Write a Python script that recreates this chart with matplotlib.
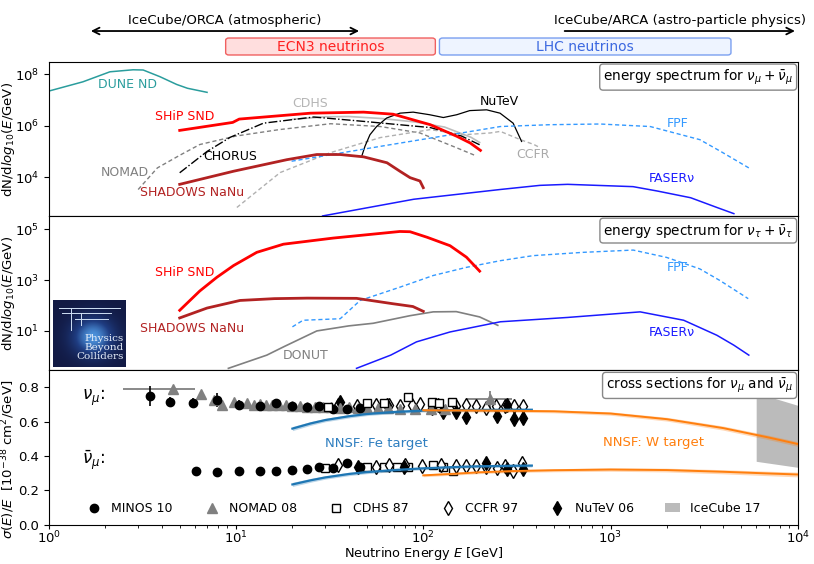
import numpy as np
import matplotlib
matplotlib.use('Agg')
import matplotlib.pyplot as plt
from matplotlib.patches import FancyBboxPatch, Patch
from matplotlib.lines import Line2D
from matplotlib.colors import LinearSegmentedColormap
from matplotlib.ticker import FixedLocator, NullLocator

# ---------------- energy spectra: nu_mu + nubar_mu ----------------
dune_E = [1.0, 1.52, 2.12, 2.82, 3.19, 3.92, 4.81, 5.5, 7.0]
dune_N = [2.24e7, 5.13e7, 1.26e8, 1.51e8, 1.48e8, 8.13e7, 4.07e7, 2.88e7, 2.0e7]

ship_mu_E = [5.0, 9.6, 10.4, 25, 48, 69, 109, 151, 178, 202]
ship_mu_N = [6.6e5, 1.35e6, 1.82e6, 3.09e6, 3.39e6, 2.82e6, 1.10e6, 3.89e5, 2.14e5, 1.10e5]

cdhs_E = [20, 30, 40, 60, 90, 130, 180, 200]
cdhs_N = [1.78e6, 2.24e6, 2.29e6, 1.91e6, 1.41e6, 8.9e5, 3.55e5, 2.24e5]

chorus_E = [5.0, 7.0, 9.3, 14, 26, 48, 109, 160, 200]
chorus_N = [1.48e4, 1.0e5, 3.55e5, 1.26e6, 2.19e6, 1.48e6, 8.5e5, 3.98e5, 1.82e5]

nomad_E = [3.0, 3.8, 5.0, 6.4, 10, 17, 32, 59, 96, 151, 190]
nomad_N = [3.3e3, 2.29e4, 7.08e4, 1.86e5, 3.98e5, 7.08e5, 1.20e6, 9.33e5, 5.25e5, 1.38e5, 6.9e4]

ccfr_E = [10.1, 17.2, 31.8, 59, 109, 164, 228, 258, 330, 390, 422]
ccfr_N = [6.6e2, 1.51e4, 8.9e4, 3.47e5, 7.08e5, 4.47e5, 5.25e5, 6.03e5, 2.88e5, 1.86e5, 1.38e5]

nutev_E = [46.8, 48.8, 51.9, 56.3, 63.7, 75, 88.3, 108, 128, 151, 177, 218, 257, 302, 335]
nutev_N = [6.17e4, 1.58e5, 4.47e5, 9.33e5, 2.0e6, 3.09e6, 3.39e6, 2.69e6, 2.09e6, 2.69e6,
           3.89e6, 4.17e6, 3.09e6, 1.26e6, 2.45e5]

shadows_mu_E = [5.0, 9.7, 18.7, 27, 36, 48, 64, 75, 85, 96, 100]
shadows_mu_N = [5.25e3, 1.70e4, 4.79e4, 7.59e4, 7.59e4, 6.17e4, 3.63e4, 1.70e4, 9.55e3, 7.08e3, 3.89e3]

fpf_mu_E = [19.8, 59, 258, 475, 880, 1630, 3000, 3880, 5480]
fpf_mu_N = [4.17e4, 1.58e5, 9.33e5, 1.10e6, 1.17e6, 9.33e5, 2.88e5, 1.0e5, 2.29e4]

faser_mu_E = [29, 89, 258, 420, 590, 1320, 1780, 2680, 3700, 4560]
faser_mu_N = [309, 1380, 3310, 4790, 5250, 4270, 2880, 1580, 661, 380]

# ---------------- energy spectra: nu_tau + nubar_tau ----------------
ship_tau_E = [5.0, 6.4, 7.9, 9.7, 12.9, 17.9, 33, 75, 85, 105, 139, 170, 200]
ship_tau_N = [64.6, 372, 1290, 3720, 1.23e4, 2.57e4, 4.47e4, 8.13e4, 7.94e4, 4.79e4, 2.24e4, 7.94e3, 2.24e3]

shadows_tau_E = [5.0, 7.0, 10.5, 16, 24, 44, 69, 88, 100]
shadows_tau_N = [32.4, 79.4, 158, 186, 195, 191, 117, 91.2, 58.9]

fpf_tau_E = [20, 22.8, 36, 46, 75, 113, 170, 257, 386, 715, 1322, 1995, 3000, 3845, 5440]
fpf_tau_N = [14.5, 26.3, 30.2, 158, 525, 1510, 3160, 5750, 9120, 1.23e4, 1.51e4, 7760, 2750, 955, 186]

donut_E = [9.1, 14.6, 18, 27, 40, 54, 85, 113, 150, 200, 250]
donut_N = [0.339, 1.12, 2.40, 10.0, 15.8, 20.0, 39.8, 56.2, 57.5, 35.5, 16.6]

faser_tau_E = [44, 67, 92, 139, 258, 590, 1440, 2460, 3700, 4560, 5480]
faser_tau_N = [0.339, 1.12, 3.72, 9.12, 22.9, 33.9, 56.2, 26.3, 6.76, 2.75, 1.12]

# ---------------- cross sections sigma/E ----------------
minos_nu_E = [3.47, 4.43, 5.87, 7.94, 10.4, 13.4, 16.4, 19.9, 23.9, 27.9, 32.9, 39.1, 45.7]
minos_nu_s = [0.750, 0.715, 0.711, 0.727, 0.698, 0.692, 0.711, 0.692, 0.686, 0.692, 0.677, 0.677, 0.683]
minos_nu_err = [0.06, 0.03, 0.025, 0.04, 0.03, 0.015, 0.012, 0.012, 0.012, 0.012, 0.012, 0.012, 0.012]
minos_nb_E = [6.11, 7.94, 10.4, 13.4, 16.4, 19.9, 23.9, 27.9, 32.9, 39.1, 45.7]
minos_nb_s = [0.310, 0.306, 0.310, 0.315, 0.310, 0.321, 0.325, 0.338, 0.329, 0.358, 0.333]
minos_nb_err = [0.015, 0.012, 0.012, 0.012, 0.012, 0.012, 0.012, 0.012, 0.012, 0.012, 0.012]

nomad_nu_E = [4.6, 6.5, 7.6, 8.4, 9.7, 11.4, 12.5, 13.5, 14.5, 15.5, 17, 18.5, 20, 22, 24, 26.5,
              29, 32, 36, 40, 45, 50, 57, 65, 75, 90, 110, 130, 228]
nomad_nu_s = [0.789, 0.763, 0.725, 0.700, 0.715, 0.707, 0.699, 0.702, 0.699, 0.700, 0.697, 0.695,
              0.694, 0.690, 0.688, 0.688, 0.686, 0.686, 0.683, 0.684, 0.680, 0.682, 0.679, 0.680,
              0.677, 0.676, 0.675, 0.672, 0.730]
nomad_nu_xlo = [2.1, 0, 0, 0, 0, 0, 0, 0, 0, 0, 0, 0, 0, 0, 0, 0, 0, 0, 0, 0, 0, 0, 0, 0, 0, 0, 0, 0, 58]
nomad_nu_xhi = [1.4, 0, 0, 0, 0, 0, 0, 0, 0, 0, 0, 0, 0, 0, 0, 0, 0, 0, 0, 0, 0, 0, 0, 0, 0, 0, 0, 0, 68]
nomad_nu_err = [0.015, 0.015, 0.01, 0.01, 0.01, 0.01, 0.01, 0.01, 0.01, 0.01, 0.01, 0.01, 0.01, 0.01,
                0.01, 0.01, 0.01, 0.01, 0.01, 0.01, 0.01, 0.01, 0.01, 0.01, 0.01, 0.01, 0.01, 0.01, 0.05]

cdhs_nu_E = [31, 50, 61.5, 83, 111, 122, 142]
cdhs_nu_s = [0.686, 0.707, 0.711, 0.742, 0.715, 0.707, 0.715]
cdhs_nu_err = [0.01, 0.012, 0.012, 0.02, 0.012, 0.012, 0.012]
cdhs_nb_E = [30, 50, 61.5, 72.5, 83, 113, 128, 145]
cdhs_nb_s = [0.329, 0.334, 0.338, 0.334, 0.335, 0.348, 0.334, 0.310]

ccfr_nu_E = [35, 44, 56, 66, 75, 87, 96, 120, 150, 170, 192, 217, 245, 274, 307, 341]
ccfr_nu_s = [0.700, 0.690, 0.695, 0.700, 0.690, 0.700, 0.701, 0.700, 0.690, 0.700, 0.692,
             0.683, 0.690, 0.692, 0.692, 0.692]
ccfr_nb_E = [35, 56, 66, 80, 98, 125, 150, 170, 192, 217, 247, 274, 303, 336]
ccfr_nb_s = [0.350, 0.338, 0.350, 0.345, 0.344, 0.350, 0.340, 0.340, 0.340, 0.338, 0.329,
             0.344, 0.315, 0.362]

nutev_nu_E = [36, 64, 111, 128, 150, 170, 247, 280, 307, 342]
nutev_nu_s = [0.715, 0.698, 0.683, 0.655, 0.657, 0.630, 0.634, 0.696, 0.615, 0.619]
nutev_nb_E = [45, 78.5, 217, 280, 342]
nutev_nb_s = [0.338, 0.338, 0.360, 0.325, 0.325]

icecube_E = [6000, 10000]
icecube_lo = [0.369, 0.334]
icecube_hi = [0.769, 0.696]

nnsf_fe_E = [20, 25, 30, 40, 50, 70, 100, 150, 200, 300, 380]
nnsf_fe_nu = [0.560, 0.590, 0.610, 0.632, 0.645, 0.657, 0.665, 0.668, 0.669, 0.670, 0.670]
nnsf_fe_nb = [0.234, 0.258, 0.275, 0.295, 0.306, 0.318, 0.328, 0.336, 0.340, 0.343, 0.344]
nnsf_fe_unc = [0.012, 0.011, 0.010, 0.010, 0.009, 0.009, 0.008, 0.008, 0.008, 0.008, 0.008]
nnsf_w_E = [100, 150, 200, 300, 500, 1000, 2000, 4000, 7000, 10000]
nnsf_w_nu = [0.667, 0.666, 0.665, 0.664, 0.661, 0.648, 0.615, 0.563, 0.508, 0.470]
nnsf_w_nb = [0.287, 0.297, 0.305, 0.312, 0.317, 0.321, 0.318, 0.308, 0.298, 0.292]
nnsf_w_unc = [0.008, 0.008, 0.008, 0.008, 0.009, 0.010, 0.011, 0.012, 0.013, 0.014]

# annotation ranges (GeV)
orca_range = (1.62, 47)
arca_range = (550, 1e4)
ecn3_range = (8.8, 116)
lhc_range = (122, 4400)

legend_labels = ['MINOS 10', 'NOMAD 08', 'CDHS 87', 'CCFR 97', 'NuTeV 06', 'IceCube 17']

# ---------------- figure ----------------
fig = plt.figure(figsize=(8.14, 5.64), dpi=100)
gs = fig.add_gridspec(3, 1, left=0.060, right=0.980, top=0.890, bottom=0.0700, hspace=0)
ax1 = fig.add_subplot(gs[0])
ax2 = fig.add_subplot(gs[1], sharex=ax1)
ax3 = fig.add_subplot(gs[2], sharex=ax1)

for ax in (ax1, ax2, ax3):
    ax.set_xscale('log')
ax1.set_xlim(1, 1e4)
ax1.set_yscale('log')
ax2.set_yscale('log')
ax1.set_ylim(302, 3.02e8)
ax2.set_ylim(0.282, 3.24e5)
ax3.set_ylim(0, 0.9)

ax1.yaxis.set_major_locator(FixedLocator([1e4, 1e6, 1e8]))
ax1.yaxis.set_minor_locator(NullLocator())
ax2.yaxis.set_major_locator(FixedLocator([1e1, 1e3, 1e5]))
ax2.yaxis.set_minor_locator(NullLocator())
for ax in (ax1, ax2):
    ax.tick_params(axis='x', which='both', bottom=False, labelbottom=False)
for ax in (ax1, ax2, ax3):
    ax.tick_params(labelsize=9.5)
ax3.tick_params(axis='x', which='major', pad=0.5, length=3)
ax3.tick_params(axis='x', which='minor', length=2)

# top panel
ax1.plot(dune_E, dune_N, color='#2a9d9d', lw=1.1)
ax1.plot(cdhs_E, cdhs_N, color='#bdbdbd', lw=1.2)
ax1.plot(nomad_E, nomad_N, color='#808080', lw=1.0, ls=(0, (3, 2)))
ax1.plot(ccfr_E, ccfr_N, color='#b0b0b0', lw=1.0, ls=(0, (3, 2)))
ax1.plot(chorus_E, chorus_N, color='black', lw=1.0, ls='-.')
ax1.plot(nutev_E, nutev_N, color='black', lw=0.9)
ax1.plot(fpf_mu_E, fpf_mu_N, color='#3399ff', lw=1.0, ls=(0, (3, 2)))
ax1.plot(faser_mu_E, faser_mu_N, color='#1a1aff', lw=1.1)
ax1.plot(ship_mu_E, ship_mu_N, color='#ff0000', lw=2.0)
ax1.plot(shadows_mu_E, shadows_mu_N, color='#b22222', lw=2.0)

fs = 9
ax1.text(2.64, 4.07e7, 'DUNE ND', color='#2a9d9d', ha='center', va='center', fontsize=fs)
ax1.text(5.34, 2.29e6, 'SHiP SND', color='#ff0000', ha='center', va='center', fontsize=fs)
ax1.text(24.9, 7.08e6, 'CDHS', color='#b5b5b5', ha='center', va='center', fontsize=fs)
ax1.text(9.3, 6.17e4, 'CHORUS', color='black', ha='center', va='center', fontsize=fs)
ax1.text(2.55, 1.48e4, 'NOMAD', color='#808080', ha='center', va='center', fontsize=fs)
ax1.text(5.82, 2.51e3, 'SHADOWS NaNu', color='#b22222', ha='center', va='center', fontsize=fs)
ax1.text(255, 8.7e6, 'NuTeV', color='black', ha='center', va='center', fontsize=fs)
ax1.text(383, 7.59e4, 'CCFR', color='#a9a9a9', ha='center', va='center', fontsize=fs)
ax1.text(2280, 1.2e6, 'FPF', color='#3399ff', ha='center', va='center', fontsize=fs)
ax1.text(2120, 8.7e3, 'FASERν', color='#1a1aff', ha='center', va='center', fontsize=fs)

box = dict(boxstyle='round,pad=0.25', fc='white', ec='#888888', lw=1)
ax1.text(0.994, 0.965, r'energy spectrum for $\nu_\mu + \bar{\nu}_\mu$', transform=ax1.transAxes,
         ha='right', va='top', fontsize=9.8, bbox=box)
ax1.set_ylabel(r'dN/d$log_{10}(E/\mathrm{GeV})$', fontsize=9.5)

# middle panel
ax2.plot(fpf_tau_E, fpf_tau_N, color='#3399ff', lw=1.0, ls=(0, (3, 2)))
ax2.plot(donut_E, donut_N, color='#808080', lw=1.2)
ax2.plot(faser_tau_E, faser_tau_N, color='#1a1aff', lw=1.1)
ax2.plot(ship_tau_E, ship_tau_N, color='#ff0000', lw=2.0)
ax2.plot(shadows_tau_E, shadows_tau_N, color='#b22222', lw=2.0)

ax2.text(5.34, 1.9e3, 'SHiP SND', color='#ff0000', ha='center', va='center', fontsize=fs)
ax2.text(5.82, 12.3, 'SHADOWS NaNu', color='#b22222', ha='center', va='center', fontsize=fs)
ax2.text(2280, 3.0e3, 'FPF', color='#3399ff', ha='center', va='center', fontsize=fs)
ax2.text(23.4, 1.12, 'DONUT', color='#808080', ha='center', va='center', fontsize=fs)
ax2.text(2120, 8.7, 'FASERν', color='#1a1aff', ha='center', va='center', fontsize=fs)
ax2.text(0.994, 0.965, r'energy spectrum for $\nu_\tau + \bar{\nu}_\tau$', transform=ax2.transAxes,
         ha='right', va='top', fontsize=9.8, bbox=box)
ax2.set_ylabel(r'dN/d$log_{10}(E/\mathrm{GeV})$', fontsize=9.5)

# bottom panel
blue = '#1f77b4'
orange = '#ff7f0e'
for yv in (nnsf_fe_nu, nnsf_fe_nb):
    lo = [v - u for v, u in zip(yv, nnsf_fe_unc)]
    hi = [v + u for v, u in zip(yv, nnsf_fe_unc)]
    ax3.fill_between(nnsf_fe_E, lo, hi, color=blue, alpha=0.3, lw=0, zorder=4)
    ax3.plot(nnsf_fe_E, yv, color=blue, lw=1.6, zorder=4)
for yv in (nnsf_w_nu, nnsf_w_nb):
    lo = [v - u for v, u in zip(yv, nnsf_w_unc)]
    hi = [v + u for v, u in zip(yv, nnsf_w_unc)]
    ax3.fill_between(nnsf_w_E, lo, hi, color=orange, alpha=0.3, lw=0, zorder=4)
    ax3.plot(nnsf_w_E, yv, color=orange, lw=1.4, zorder=4)

ax3.fill_between(icecube_E, icecube_lo, icecube_hi, color='#bbbbbb', lw=0, zorder=2)

ax3.errorbar(nomad_nu_E, nomad_nu_s, yerr=nomad_nu_err, xerr=[nomad_nu_xlo, nomad_nu_xhi],
             fmt='^', color='#808080', ms=7, elinewidth=1.3, capsize=0, zorder=3)
ax3.errorbar(minos_nu_E, minos_nu_s, yerr=minos_nu_err, fmt='o', color='black', ms=6,
             elinewidth=1.2, capsize=0, zorder=3)
ax3.errorbar(minos_nb_E, minos_nb_s, yerr=minos_nb_err, fmt='o', color='black', ms=6,
             elinewidth=1.2, capsize=0, zorder=3)
ax3.errorbar(cdhs_nu_E, cdhs_nu_s, yerr=cdhs_nu_err, fmt='s', mfc='white', mec='black',
             ecolor='black', ms=6, elinewidth=1, capsize=0, zorder=3)
ax3.plot(cdhs_nb_E, cdhs_nb_s, 's', mfc='white', mec='black', ms=6, zorder=3)
ax3.plot(ccfr_nu_E, ccfr_nu_s, 'd', mfc='white', mec='black', ms=7, zorder=3)
ax3.plot(ccfr_nb_E, ccfr_nb_s, 'd', mfc='white', mec='black', ms=7, zorder=3)
ax3.plot(nutev_nu_E, nutev_nu_s, 'd', color='black', ms=7, zorder=3)
ax3.plot(nutev_nb_E, nutev_nb_s, 'd', color='black', ms=7, zorder=3)

ax3.text(56, 0.475, 'NNSF: Fe target', color='#2f7fc0', ha='center', va='center', fontsize=9.5)
ax3.text(1690, 0.48, 'NNSF: W target', color=orange, ha='center', va='center', fontsize=9.5)
ax3.text(1.5, 0.74, r'$\nu_\mu$:', ha='left', va='center', fontsize=12)
ax3.text(1.5, 0.373, r'$\bar{\nu}_\mu$:', ha='left', va='center', fontsize=12)
ax3.text(0.994, 0.965, r'cross sections for $\nu_\mu$ and $\bar{\nu}_\mu$', transform=ax3.transAxes,
         ha='right', va='top', fontsize=9.8, bbox=box)

handles = [
    Line2D([], [], marker='o', color='black', ls='none', ms=6),
    Line2D([], [], marker='^', color='#808080', ls='none', ms=7),
    Line2D([], [], marker='s', mfc='white', mec='black', ls='none', ms=6),
    Line2D([], [], marker='d', mfc='white', mec='black', ls='none', ms=7),
    Line2D([], [], marker='d', color='black', ls='none', ms=7),
    Patch(fc='#bbbbbb', ec='none'),
]
ax3.legend(handles, legend_labels, ncol=6, loc='center left', bbox_to_anchor=(0.050, 0.103),
           frameon=False, fontsize=9, handlelength=1.2, handletextpad=0.8, columnspacing=2.5,
           borderaxespad=0, borderpad=0)
ax3.set_yticks([0.0, 0.2, 0.4, 0.6, 0.8])
ax3.set_xlabel(r'Neutrino Energy $E$ [GeV]', fontsize=9.3)
ax3.xaxis.set_label_coords(0.5, -0.136)
ax3.set_ylabel(r'$\sigma(E)/E$  [$10^{-38}$ cm$^2$/GeV]', fontsize=9.5)
ax1.yaxis.set_label_coords(-0.043, 0.5)
ax2.yaxis.set_label_coords(-0.043, 0.5)
ax3.yaxis.set_label_coords(-0.043, 0.42)

# ---------------- annotations above the panels ----------------
fig.canvas.draw()
W = fig.bbox.width

def fx(e):
    return ax1.transData.transform((e, 1e5))[0] / W

y_text, y_arrow = 0.964, 0.945
ax1.annotate('', xy=(fx(orca_range[0]), y_arrow), xytext=(fx(orca_range[1]), y_arrow),
             xycoords='figure fraction', textcoords='figure fraction',
             arrowprops=dict(arrowstyle='<->', lw=1.3, color='black', mutation_scale=12))
fig.text((fx(orca_range[0]) + fx(orca_range[1])) / 2, y_text, 'IceCube/ORCA (atmospheric)',
         ha='center', va='center', fontsize=9.5)
ax1.annotate('', xy=(fx(arca_range[1]), y_arrow), xytext=(fx(arca_range[0]), y_arrow),
             xycoords='figure fraction', textcoords='figure fraction',
             arrowprops=dict(arrowstyle='->', lw=1.3, color='black', mutation_scale=12))
fig.text((fx(arca_range[0]) + fx(arca_range[1])) / 2, y_text, 'IceCube/ARCA (astro-particle physics)',
         ha='center', va='center', fontsize=9.5)

box_y0, box_h = 0.9025, 0.0301
for rng, face, edge, tcol, lab in ((ecn3_range, '#ffdede', '#f06060', '#ff2020', 'ECN3 neutrinos'),
                                   (lhc_range, '#eef4ff', '#7a9ff0', '#3b68e0', 'LHC neutrinos')):
    x0, x1 = fx(rng[0]), fx(rng[1])
    p = FancyBboxPatch((x0, box_y0), x1 - x0, box_h, boxstyle='round,pad=0,rounding_size=0.004',
                       transform=fig.transFigure, fc=face, ec=edge, lw=1.0)
    fig.patches.append(p)
    fig.text((x0 + x1) / 2, box_y0 + box_h / 2, lab, color=tcol, ha='center', va='center', fontsize=10)

# ---------------- PBC logo (decorative) ----------------
lax = fig.add_axes([53 / 814, 1 - 367 / 564, 73 / 814, 67 / 564])
gx, gy = np.meshgrid(np.linspace(0, 1, 80), np.linspace(0, 1, 80))
glow = np.exp(-((gx - 0.55) ** 2 + (gy - 0.45) ** 2) / 0.08)
cmap = LinearSegmentedColormap.from_list('pbc', ['#121a44', '#1f3d82', '#4d93dc'])
lax.imshow(glow, cmap=cmap, extent=(0, 1, 0, 1), origin='lower', aspect='auto')
for yy, xa, xb in ((0.88, 0.08, 0.92), (0.80, 0.12, 0.80), (0.72, 0.30, 0.75)):
    lax.plot([xa, xb], [yy, yy], color='#cfe0f5', lw=0.7)
lax.plot([0.25, 0.25], [0.88, 0.55], color='#cfe0f5', lw=0.7)
lax.plot([0.38, 0.38], [0.80, 0.62], color='#cfe0f5', lw=0.7)
lax.text(0.97, 0.29, 'Physics\nBeyond\nColliders', color='#e6eefa', ha='right', va='center',
         fontsize=7.5, family='DejaVu Serif', linespacing=1.0)
lax.set_xlim(0, 1)
lax.set_ylim(0, 1)
lax.axis('off')

fig.savefig('out.png', dpi=100)
